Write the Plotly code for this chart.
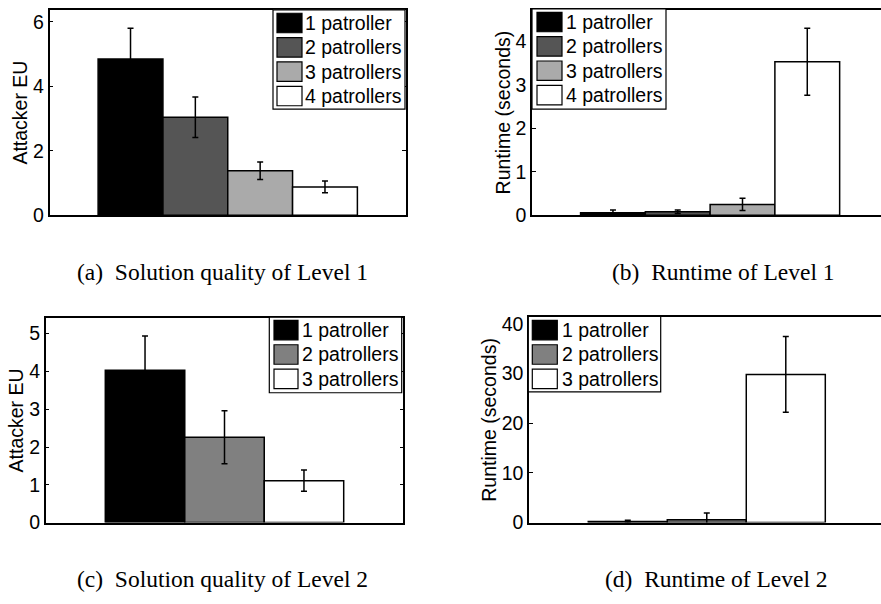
import plotly.graph_objects as go

W, H = 881, 604

# ---------------- data ----------------
series_l1 = ["1 patroller", "2 patrollers", "3 patrollers", "4 patrollers"]
series_l2 = ["1 patroller", "2 patrollers", "3 patrollers"]
colors_l1 = ["#000000", "#555555", "#aaaaaa", "#ffffff"]
colors_l2 = ["#000000", "#808080", "#ffffff"]

eu_l1 = [4.85, 3.04, 1.38, 0.88]
eu_l1_err = [0.95, 0.63, 0.27, 0.18]
rt_l1 = [0.06, 0.08, 0.25, 3.53]
rt_l1_err = [0.06, 0.04, 0.14, 0.77]

eu_l2 = [4.03, 2.26, 1.11]
eu_l2_err = [0.91, 0.70, 0.28]
rt_l2 = [0.2, 0.6, 29.8]
rt_l2_err = [0.27, 1.35, 7.6]

captions = ["(a)\u00a0\u00a0Solution quality of Level 1", "(b)\u00a0\u00a0Runtime of Level 1",
            "(c)\u00a0\u00a0Solution quality of Level 2", "(d)\u00a0\u00a0Runtime of Level 2"]
ytitles = ["Attacker EU", "Runtime (seconds)", "Attacker EU", "Runtime (seconds)"]

SANS = "Liberation Sans, Arial, Helvetica, sans-serif"
SERIF = "Liberation Serif, Times New Roman, serif"
FS = 19.5
CAP_FS = 23.5


def px(x):
    return x / W


def py(y):
    return 1 - y / H


# layout geometry in pixels (left, top, right, bottom)
panels = [
    dict(vals=eu_l1, errs=eu_l1_err, names=series_l1, colors=colors_l1,
         box=(49.5, 5, 406, 216), xr=[0.5, 1.5], yr=[0, 6.37], dtick=2, full=True,
         leg=dict(box=(273, 5, 405, 107), sx=(277, 302), y0=18.5, tx=303),
         cap=(222, 274), standoff=0),
    dict(vals=rt_l1, errs=rt_l1_err, names=series_l1, colors=colors_l1,
         box=(532, 5, 881, 216), xr=[0.5, 1.4797], yr=[0, 4.72], dtick=1, full=False,
         leg=dict(box=(532, 4, 666, 107), sx=(537, 562), y0=17.5, tx=564),
         cap=(723, 274), standoff=0),
    dict(vals=eu_l2, errs=eu_l2_err, names=series_l2, colors=colors_l2,
         box=(45.7, 321.7, 403.3, 531.7), xr=[0.5, 1.5], yr=[0, 5.41], dtick=1, full=True,
         leg=dict(box=(269.3, 320.7, 401.7, 398.3), sx=(274, 298), y0=334, tx=300),
         cap=(222, 590), standoff=0),
    dict(vals=rt_l2, errs=rt_l2_err, names=series_l2, colors=colors_l2,
         box=(529, 320.7, 881, 531.7), xr=[0.5, 1.49], yr=[0, 41.3], dtick=10, full=False,
         leg=dict(box=(528.3, 320, 660.7, 397.3), sx=(532.3, 557.3), y0=334, tx=560),
         cap=(716, 590), standoff=0),
]

fig = go.Figure()
shapes = []
annotations = []

for k, p in enumerate(panels):
    idx = "" if k == 0 else str(k + 1)
    n = len(p["vals"])
    group_w = min(0.8, n / (n + 1.5))
    bw = group_w / n
    for i in range(n):
        fig.add_trace(go.Bar(
            x=[1], y=[p["vals"][i]], name=p["names"][i],
            width=bw, offset=-group_w / 2 + i * bw,
            marker=dict(color=p["colors"][i], line=dict(color="black", width=1.5)),
            error_y=dict(type="data", array=[p["errs"][i]], color="black",
                         thickness=1.5, width=3),
            xaxis="x" + idx, yaxis="y" + idx, showlegend=False,
        ))
    l, t, r, b = p["box"]
    fig.layout["xaxis" + idx] = dict(
        domain=[px(l), px(r)], range=p["xr"], anchor="y" + idx,
        showline=True, linecolor="black", linewidth=1.5, mirror=True,
        showticklabels=False, ticks="", showgrid=False, zeroline=False, fixedrange=True,
    )
    fig.layout["yaxis" + idx] = dict(
        domain=[py(b), py(t)], range=p["yr"], anchor="x" + idx, dtick=p["dtick"],
        showline=True, linecolor="black", linewidth=1.5,
        mirror="ticks" if p["full"] else False,
        ticks="inside", ticklen=4, tickcolor="black", tickwidth=1,
        tickfont=dict(family=SANS, size=FS, color="black"),
        showgrid=False, zeroline=False, fixedrange=True,
        title=dict(text=ytitles[k], font=dict(family=SANS, size=FS, color="black"),
                   standoff=p["standoff"]),
    )

    # legend drawn as shapes + text
    lg = p["leg"]
    bl, bt, br, bb = lg["box"]
    shapes.append(dict(type="rect", xref="paper", yref="paper",
                       x0=px(bl), x1=px(br), y0=py(bb), y1=py(bt),
                       fillcolor="white", line=dict(color="black", width=1.2), layer="above"))
    for i in range(n):
        cy = lg["y0"] + 25 * i
        shapes.append(dict(type="rect", xref="paper", yref="paper",
                           x0=px(lg["sx"][0]), x1=px(lg["sx"][1]),
                           y0=py(cy + 10), y1=py(cy - 10),
                           fillcolor=p["colors"][i], line=dict(color="black", width=1.2),
                           layer="above"))
        annotations.append(dict(xref="paper", yref="paper", x=px(lg["tx"]), y=py(cy),
                                xanchor="left", yanchor="middle", showarrow=False,
                                text=p["names"][i],
                                font=dict(family=SANS, size=FS, color="black")))

    cx, cy = p["cap"]
    annotations.append(dict(xref="paper", yref="paper", x=px(cx), y=py(cy),
                            xanchor="center", yanchor="middle", showarrow=False,
                            text=captions[k],
                            font=dict(family=SERIF, size=CAP_FS, color="black")))

fig.update_layout(
    width=W, height=H, autosize=False,
    margin=dict(l=0, r=0, t=0, b=0),
    paper_bgcolor="white", plot_bgcolor="white",
    barmode="overlay",
    shapes=shapes, annotations=annotations,
    showlegend=False,
)

# remove the browser's default 8px page margin so the figure sits at (0, 0)
fig.write_html("out.html", config={"displayModeBar": False},
               post_script="document.body.style.margin='0';")
